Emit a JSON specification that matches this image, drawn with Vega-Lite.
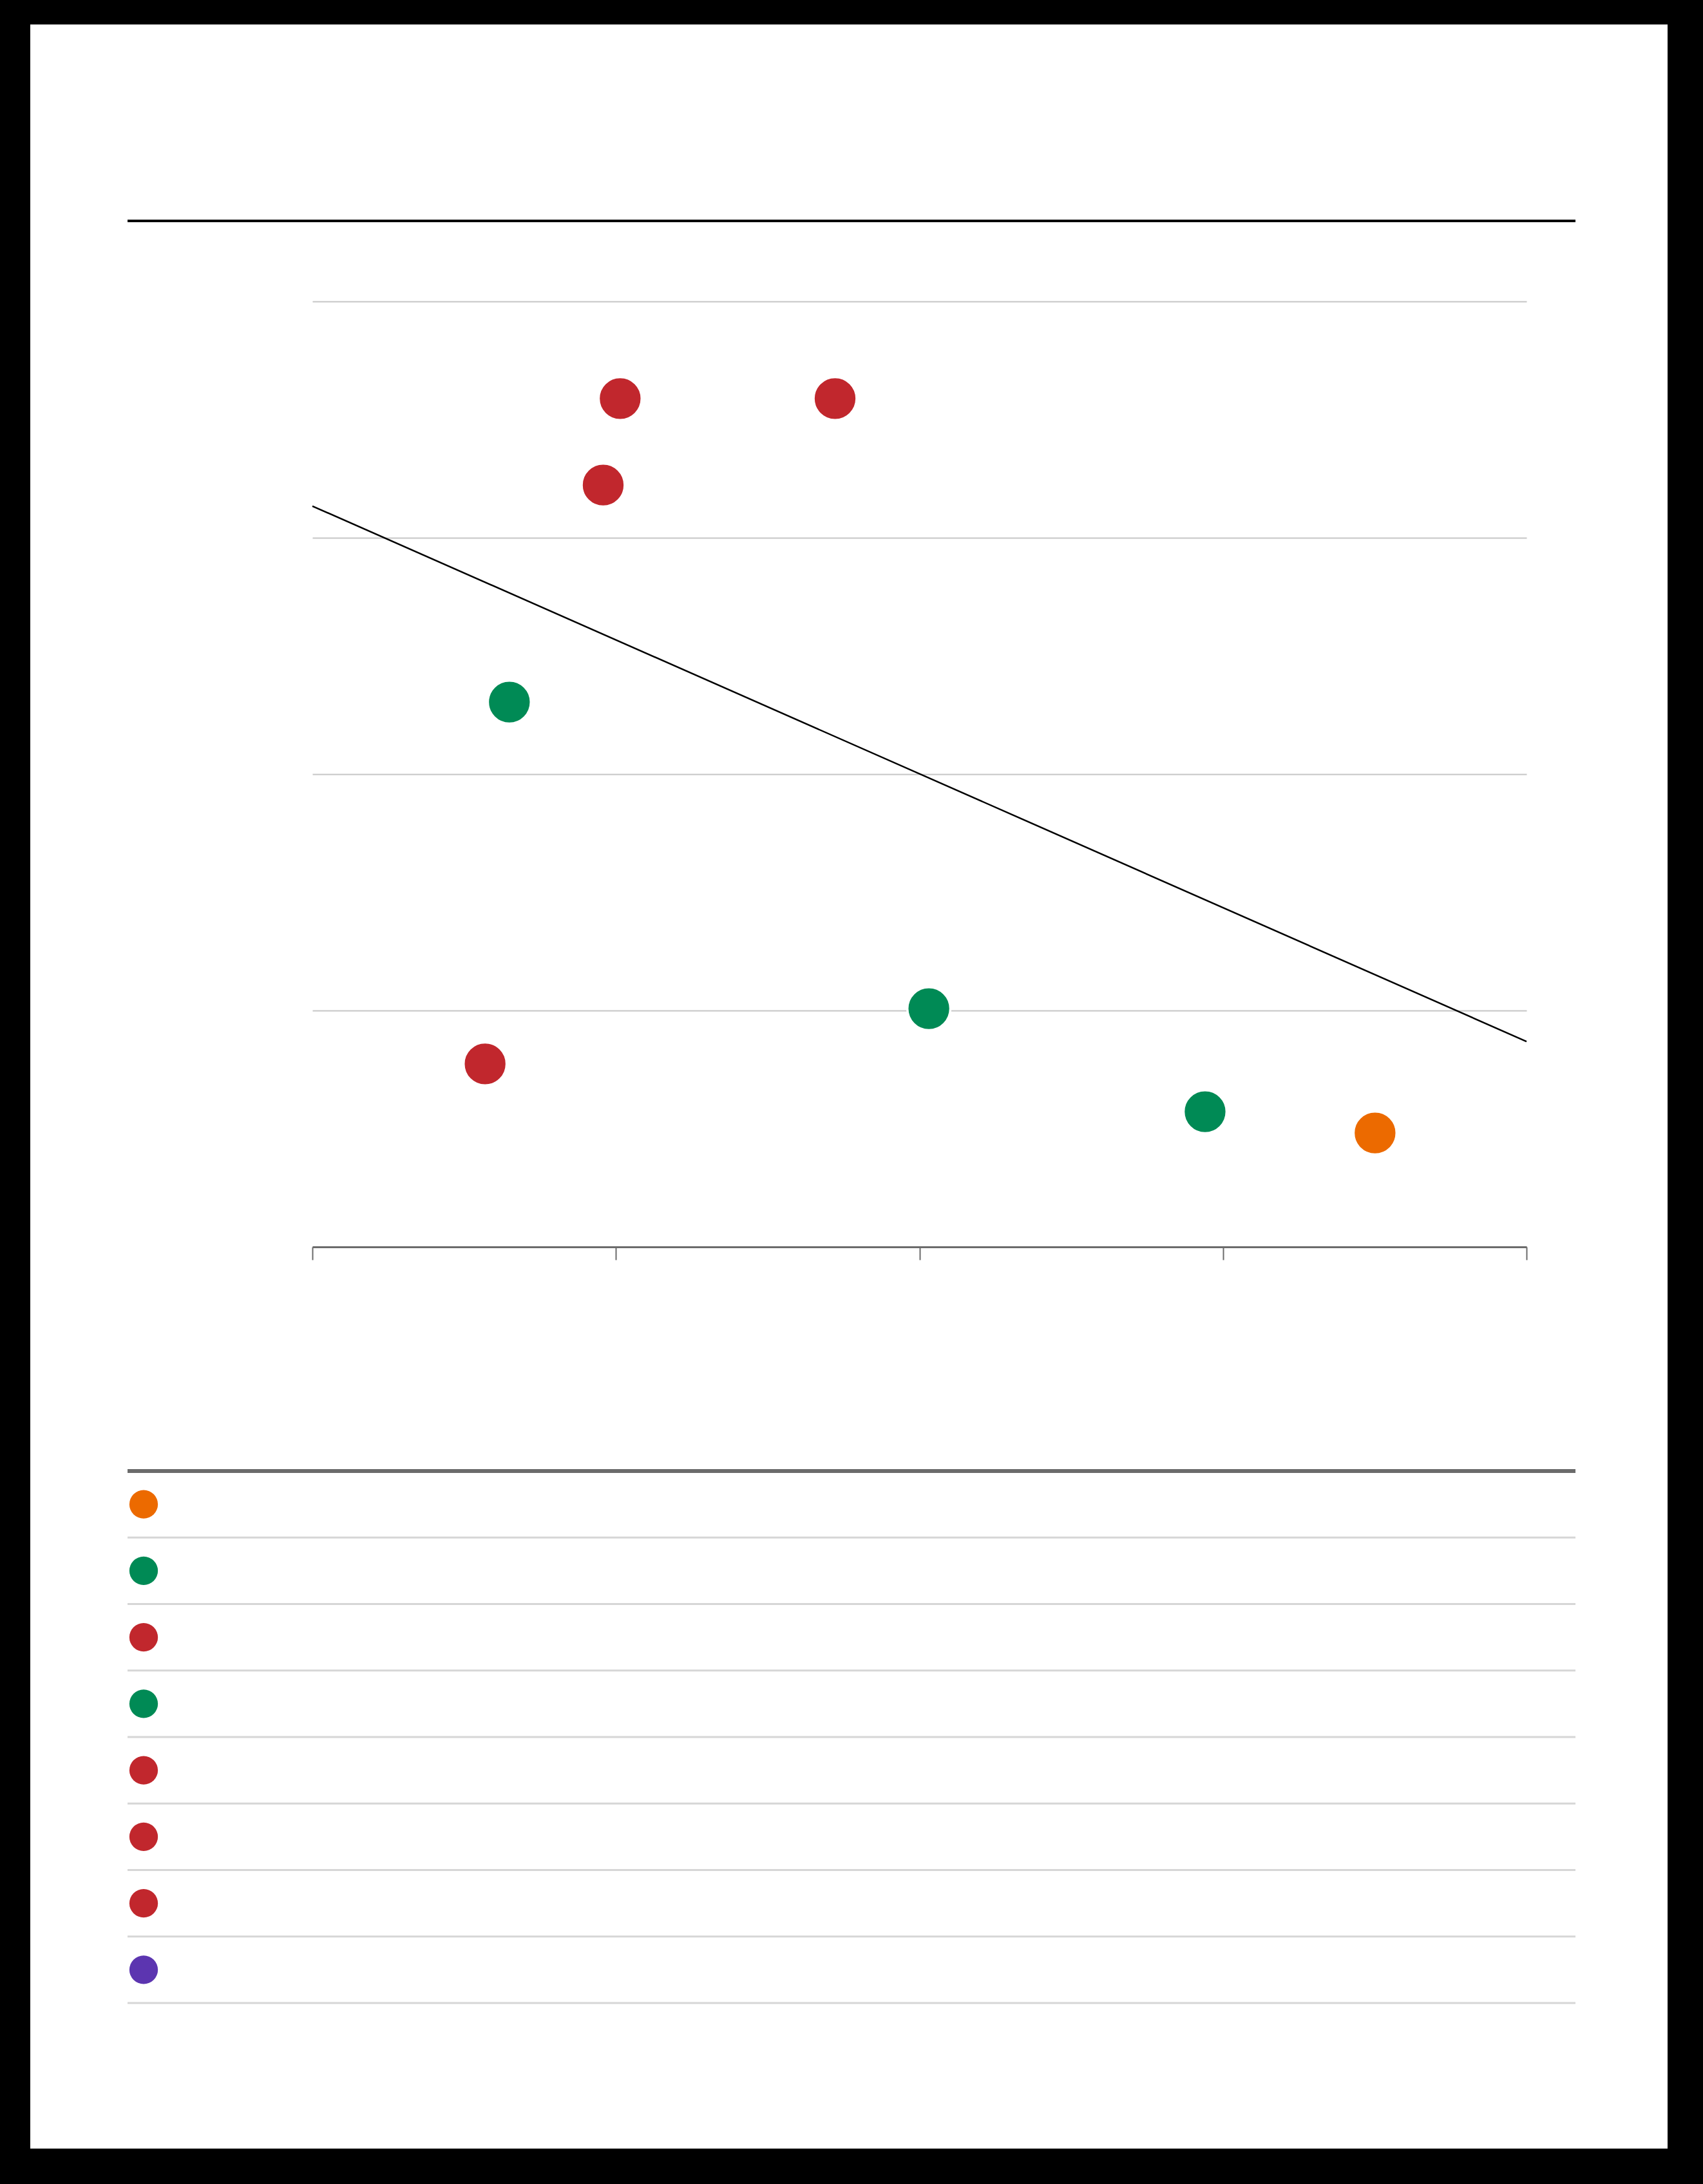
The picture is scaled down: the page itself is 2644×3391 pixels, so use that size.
{
  "$schema": "https://vega.github.io/schema/vega-lite/v6.json",
  "background": "white",
  "padding": 0,
  "spacing": 0,
  "config": {"view": {"stroke": null}},
  "vconcat": [
    {
      "width": 2644, "height": 38,
      "view": {"fill": "black", "stroke": null},
      "data": {"values": [{}]},
      "mark": {"type": "rect", "color": "black"},
      "encoding": {}
    },
    {
      "spacing": 148,
      "hconcat": [
        {
          "width": 47, "height": 3298,
          "view": {"fill": "black", "stroke": null},
          "data": {"values": [{}]},
          "mark": {"type": "rect", "color": "black"},
          "encoding": {}
        },
        {
          "spacing": 140,
          "hconcat": [
            {
              "spacing": 123,
              "vconcat": [
                {
                  "width": 2248, "height": 305,
                  "data": {"values": [{"b": 0}]},
                  "mark": {"type": "rule", "color": "black", "strokeWidth": 4},
                  "encoding": {
                    "y": {"field": "b", "type": "quantitative", "scale": {"domain": [0, 1], "nice": false, "zero": false}, "axis": null}
                  }
                },
                {
                  "spacing": 324,
                  "vconcat": [
                    {
                      "spacing": 281,
                      "hconcat": [
                        {
                          "width": 1, "height": 1468,
                          "data": {"values": [{}]},
                          "mark": {"type": "rect", "opacity": 0},
                          "encoding": {}
                        },
                        {
                          "width": 1885, "height": 1468,
                          "encoding": {
                            "x": {
                              "field": "x", "type": "quantitative",
                              "scale": {"domain": [0, 4], "nice": false, "zero": false},
                              "axis": {"values": [0, 1, 2, 3, 4], "labels": false, "title": null, "grid": false, "domainColor": "#6b6b6b", "domainWidth": 3, "tickColor": "#6b6b6b", "tickWidth": 2, "tickSize": 20}
                            },
                            "y": {
                              "field": "y", "type": "quantitative",
                              "scale": {"domain": [0, 4], "nice": false, "zero": false},
                              "axis": {"values": [0, 1, 2, 3, 4], "grid": true, "gridColor": "#c6c6c6", "gridWidth": 2, "labels": false, "ticks": false, "domain": false, "title": null, "minExtent": 0, "maxExtent": 0}
                            }
                          },
                          "layer": [
                            {
                              "data": {"values": [{"x": 0, "y": 3.134}, {"x": 4, "y": 0.869}]},
                              "mark": {"type": "line", "color": "black", "strokeWidth": 2.5}
                            },
                            {
                              "data": {"values": [
                                {"x": 1.014, "y": 3.589, "cat": "C"},
                                {"x": 1.722, "y": 3.589, "cat": "C"},
                                {"x": 0.958, "y": 3.223, "cat": "C"},
                                {"x": 0.649, "y": 2.305, "cat": "B"},
                                {"x": 0.569, "y": 0.774, "cat": "C"},
                                {"x": 2.031, "y": 1.008, "cat": "B"},
                                {"x": 2.941, "y": 0.572, "cat": "B"},
                                {"x": 3.501, "y": 0.482, "cat": "A"}
                              ]},
                              "mark": {"type": "circle", "size": 4465, "opacity": 1, "stroke": "white", "strokeWidth": 3.5},
                              "encoding": {
                                "color": {"field": "cat", "type": "nominal", "scale": {"domain": ["A", "B", "C", "D"], "range": ["#ec6a00", "#008a55", "#c1272d", "#5c35b0"]}, "legend": null}
                              }
                            }
                          ]
                        }
                      ]
                    },
                    {
                      "width": 2248, "height": 826,
                      "layer": [
                        {
                          "data": {"values": [{"b": 0}]},
                          "mark": {"type": "rule", "color": "#6b6b6b", "strokeWidth": 6},
                          "encoding": {
                            "y": {"field": "b", "type": "quantitative", "scale": {"domain": [0, 8], "reverse": true, "nice": false, "zero": false}, "axis": null}
                          }
                        },
                        {
                          "data": {"values": [{"b": 1}, {"b": 2}, {"b": 3}, {"b": 4}, {"b": 5}, {"b": 6}, {"b": 7}, {"b": 8}]},
                          "mark": {"type": "rule", "color": "#d6d6d6", "strokeWidth": 3},
                          "encoding": {
                            "y": {"field": "b", "type": "quantitative", "scale": {"domain": [0, 8], "reverse": true, "nice": false, "zero": false}, "axis": null}
                          }
                        },
                        {
                          "data": {"values": [
                            {"pos": 0.5, "cat": "A"},
                            {"pos": 1.5, "cat": "B"},
                            {"pos": 2.5, "cat": "C"},
                            {"pos": 3.5, "cat": "B"},
                            {"pos": 4.5, "cat": "C"},
                            {"pos": 5.5, "cat": "C"},
                            {"pos": 6.5, "cat": "C"},
                            {"pos": 7.5, "cat": "D"}
                          ]},
                          "mark": {"type": "circle", "size": 1963, "opacity": 1},
                          "encoding": {
                            "x": {"datum": 0, "type": "quantitative", "scale": {"domain": [0, 1], "padding": 25, "nice": false, "zero": false}, "axis": null},
                            "y": {"field": "pos", "type": "quantitative", "scale": {"domain": [0, 8], "reverse": true, "nice": false, "zero": false}, "axis": null},
                            "color": {"field": "cat", "type": "nominal", "scale": {"domain": ["A", "B", "C", "D"], "range": ["#ec6a00", "#008a55", "#c1272d", "#5c35b0"]}, "legend": null}
                          }
                        }
                      ]
                    }
                  ]
                }
              ]
            },
            {
              "width": 56, "height": 3298,
              "view": {"fill": "black", "stroke": null},
              "data": {"values": [{}]},
              "mark": {"type": "rect", "color": "black"},
              "encoding": {}
            }
          ]
        }
      ]
    },
    {
      "width": 2644, "height": 55,
      "view": {"fill": "black", "stroke": null},
      "data": {"values": [{}]},
      "mark": {"type": "rect", "color": "black"},
      "encoding": {}
    }
  ]
}
